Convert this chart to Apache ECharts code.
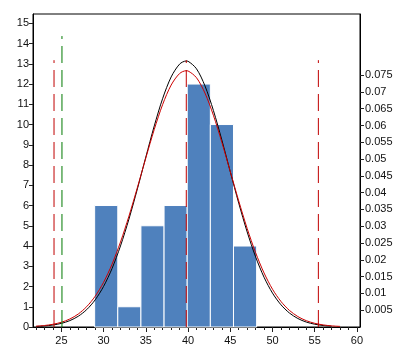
<!DOCTYPE html>
<html>
<head>
<meta charset="utf-8">
<script src="https://cdn.jsdelivr.net/npm/echarts@6/dist/echarts.min.js"></script>
<style>html,body{margin:0;padding:0;background:#fff}#c{width:408px;height:361px}</style>
</head>
<body>
<div id="c"></div>
<script>
// Histogram bins: [start, end, count]
var binStarts = [28.94, 31.68, 34.42, 37.16, 39.90, 42.64, 45.38];
var binEnds   = [31.68, 34.42, 37.16, 39.90, 42.64, 45.38, 48.12];
var binCounts = [6, 1, 5, 6, 12, 10, 4];

// Density curves (right axis)
var curveX = [22,23,24,25,26,27,28,29,30,31,32,33,34,35,36,37,38,39,39.77,40,41,42,43,44,45,46,47,48,49,50,51,52,53,54,55,56,57,58];
var blackCurve = [0.00016,0.00031,0.00059,0.00108,0.0019,0.0032,0.00518,0.00808,0.0121,0.01742,0.02414,0.03213,0.04112,0.05061,0.05988,0.0681,0.07446,0.07828,0.0792,0.07912,0.07688,0.07181,0.06449,0.05569,0.04623,0.03689,0.02831,0.02088,0.01481,0.01009,0.00662,0.00417,0.00253,0.00147,0.00083,0.00044,0.00023,null];
var redCurve = [0.00024,0.00045,0.00081,0.00141,0.00238,0.00387,0.00607,0.00915,0.01332,0.0187,0.0253,0.03301,0.04152,0.05034,0.05884,0.06631,0.07205,0.07548,0.0763,0.07623,0.07422,0.06967,0.06305,0.05501,0.04628,0.03753,0.02934,0.02212,0.01608,0.01125,0.00761,0.00495,0.00311,0.00188,0.0011,0.00062,0.00034,0.00018];

// Reference lines
var redLinesX = [24.13, 39.79, 55.43];
var redLinesTop = 13.18;
var greenLineX = 25.07;
var greenLineTop = 14.37;

// Tick labels
var xMajorTicks = [25,30,35,40,45,50,55,60];
var xMinorTicks = [22,23,24,25,26,27,28,29,30,31,32,33,34,35,36,37,38,39,40,41,42,43,44,45,46,47,48,49,50,51,52,53,54,55,56,57,58,59,60];
var yLeftTicks = [0,1,2,3,4,5,6,7,8,9,10,11,12,13,14,15];
var yRightTicks = [0.005,0.01,0.015,0.02,0.025,0.03,0.035,0.04,0.045,0.05,0.055,0.06,0.065,0.07,0.075];

var FONT = 'Liberation Sans, Arial, sans-serif';
var lbl = {color:'#111', fontFamily:FONT, fontSize:11};

var barData = binStarts.map(function(s,i){return [s, binEnds[i], binCounts[i]];});
function pairs(xs, ys){return xs.map(function(x,i){return [x, ys[i]];});}

var series = [{
  type:'custom', xAxisIndex:0, yAxisIndex:0,
  encode:{x:[0,1], y:2},
  data: barData,
  renderItem:function(params, api){
    var p0 = api.coord([api.value(0), 0]);
    var p1 = api.coord([api.value(1), api.value(2)]);
    return {type:'rect', shape:{x:p0[0], y:p1[1], width:p1[0]-p0[0], height:p0[1]-p1[1]},
      style:{fill:'#4f81bd', stroke:'#ffffff', lineWidth:1}};
  }
},{
  type:'line', xAxisIndex:0, yAxisIndex:1, data: pairs(curveX, blackCurve),
  showSymbol:false, smooth:0.3, connectNulls:false,
  lineStyle:{color:'#000', width:1}, z:3
},{
  type:'line', xAxisIndex:0, yAxisIndex:1, data: pairs(curveX, redCurve),
  showSymbol:false, smooth:0.3,
  lineStyle:{color:'#cc0000', width:1}, z:4
}];
redLinesX.forEach(function(x){
  series.push({type:'line', xAxisIndex:0, yAxisIndex:0, data:[[x,0],[x,redLinesTop]],
    showSymbol:false, lineStyle:{color:'#c00000', width:1, type:[17,7]}, z:5});
});
series.push({type:'line', xAxisIndex:0, yAxisIndex:0, data:[[greenLineX,0],[greenLineX,greenLineTop]],
  showSymbol:false, lineStyle:{color:'#007a00', width:1, type:[17,7]}, z:5});

var chart = echarts.init(document.getElementById('c'), null, {renderer:'canvas'});
chart.setOption({
  animation:false,
  backgroundColor:'#fff',
  grid:{left:33, top:14, width:327, height:313, show:true, borderColor:'#000', borderWidth:1, backgroundColor:'transparent'},
  xAxis:[{
    type:'value', min:21.64, max:60.36, position:'bottom',
    axisLine:{show:true, onZero:false, lineStyle:{color:'#000', width:1}},
    axisTick:{show:true, customValues:xMajorTicks, length:5, lineStyle:{color:'#222'}},
    axisLabel:Object.assign({customValues:xMajorTicks, margin:8}, lbl),
    splitLine:{show:false}
  },{
    type:'value', min:21.64, max:60.36, position:'bottom',
    axisLine:{show:false, onZero:false},
    axisTick:{show:true, customValues:xMinorTicks, length:3, lineStyle:{color:'#222'}},
    axisLabel:{show:false},
    splitLine:{show:false}
  }],
  yAxis:[{
    type:'value', min:0, max:15.46, position:'left',
    axisLine:{show:true, lineStyle:{color:'#000', width:1}},
    axisTick:{show:true, customValues:yLeftTicks, length:4, lineStyle:{color:'#222'}},
    axisLabel:Object.assign({customValues:yLeftTicks, margin:4}, lbl),
    splitLine:{show:false}
  },{
    type:'value', min:0, max:0.0932, position:'right',
    axisLine:{show:true, lineStyle:{color:'#000', width:1}},
    axisTick:{show:true, customValues:yRightTicks, length:4, lineStyle:{color:'#222'}},
    axisLabel:Object.assign({customValues:yRightTicks, margin:5, formatter:function(v){return String(+v.toFixed(3));}}, lbl),
    splitLine:{show:false}
  }],
  series:series
});
</script>
</body>
</html>
